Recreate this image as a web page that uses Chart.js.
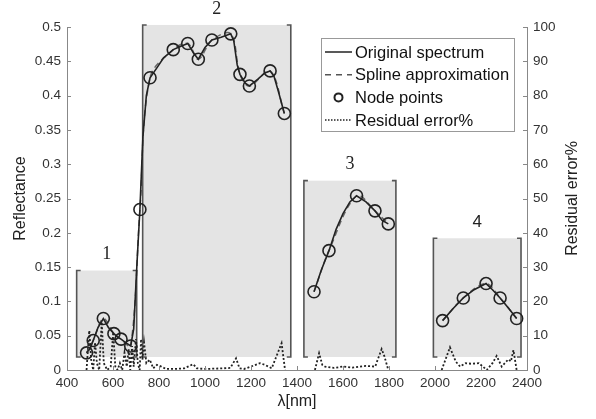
<!DOCTYPE html>
<html>
<head>
<meta charset="utf-8">
<script src="https://cdn.jsdelivr.net/npm/chart.js@4/dist/chart.umd.min.js"></script>
<style>
  html, body { margin: 0; padding: 0; background: #fff; }
  #wrap { width: 596px; height: 419px; }
</style>
</head>
<body>
<div id="wrap"><canvas id="chart" width="596" height="419"></canvas></div>
<script>
// ---- data ----
// original spectrum (null = gap between bands)
var specX = [485, 500, 514, 535, 558, 580, 604, 620, 635, 655, 677, 690, 705, 717, 730, 745, 761, 790, 820, 862, 895, 925, 950, 971, 1000, 1030, 1070, 1112, 1125, 1140, 1152, 1175, 1193, 1230, 1260, 1283, 1300, 1320, 1345,
  1400,
  1474, 1505, 1539, 1570, 1600, 1630, 1659, 1700, 1739, 1770, 1797,
  1900,
  2033, 2080, 2123, 2170, 2222, 2250, 2283, 2320, 2355];
var specY = [0.025, 0.031, 0.043, 0.062, 0.075, 0.062, 0.053, 0.048, 0.045, 0.040, 0.035, 0.060, 0.160, 0.234, 0.340, 0.400, 0.426, 0.440, 0.455, 0.467, 0.472, 0.476, 0.462, 0.453, 0.470, 0.481, 0.485, 0.490, 0.480, 0.445, 0.431, 0.418, 0.414, 0.424, 0.433, 0.436, 0.428, 0.405, 0.374,
  null,
  0.114, 0.145, 0.174, 0.205, 0.228, 0.245, 0.254, 0.245, 0.232, 0.218, 0.213,
  null,
  0.072, 0.090, 0.105, 0.117, 0.126, 0.117, 0.105, 0.090, 0.075];

// node points of the spline
var nodeX = [485, 514, 558, 604, 635, 677, 717, 761, 862, 925, 971, 1030, 1112, 1152, 1193, 1283, 1345,
  1400,
  1474, 1539, 1659, 1739, 1797,
  1900,
  2033, 2123, 2222, 2283, 2355];
var nodeY = [0.025, 0.043, 0.075, 0.053, 0.045, 0.035, 0.234, 0.426, 0.467, 0.476, 0.453, 0.481, 0.490, 0.431, 0.414, 0.436, 0.374,
  null,
  0.114, 0.174, 0.254, 0.232, 0.213,
  null,
  0.072, 0.105, 0.126, 0.105, 0.075];

// residual error, %
var resX = [485, 490, 497, 505, 514, 522, 530, 540, 551, 560, 575, 590, 601, 610, 620, 630, 640, 650, 660, 668, 675, 683, 690, 700, 708, 716, 722, 728, 735, 745, 760, 775, 791, 810, 830, 870, 910, 949, 965, 1000, 1040, 1080, 1110, 1135, 1150, 1170, 1200, 1239, 1260, 1290, 1333, 1348,
  1400,
  1478, 1496, 1510, 1522, 1560, 1600, 1640, 1700, 1740, 1768, 1780, 1797,
  1900,
  2029, 2065, 2090, 2109, 2133, 2160, 2191, 2225, 2250, 2268, 2290, 2319, 2330, 2341, 2355];
var resY = [0, 5, 11.5, 3, 0, 8, 2, 0, 14, 2, 0, 1, 11, 1, 0, 2, 0, 5, 1, 6, 0, 7, 1, 9, 2, 0, 9, 3, 8, 2, 3, 0.5, 1.5, 1, 0.3, 0.3, 0.5, 1.7, 0.5, 0.3, 0.4, 0.5, 0.6, 3.4, 0.5, 0.3, 1, 2, 1.5, 0.5, 7.8, 0,
  null,
  0, 4.9, 1.5, 1, 0.6, 1, 0.7, 1.2, 1, 6.1, 4, 0,
  null,
  0, 6.6, 2.5, 1, 2, 1.8, 2, 0, 2, 4.1, 1, 3.1, 2.5, 5.8, 0];

// spectral regions (grey boxes)
var boxLabels = ['1', '2', '3', '4'];
var boxStart = [442, 729, 1430, 1993];
var boxEnd = [703, 1373, 1830, 2374];
var boxTop = [0.145, 0.503, 0.276, 0.192];
var boxBottom = 0.019;

var legendLabels = ['Original spectrum', 'Spline approximation', 'Node points', 'Residual error%'];

var SANS = "'Liberation Sans', Arial, sans-serif";
var SERIF = "'Liberation Serif', 'Times New Roman', serif";

function pts(xs, ys) { return xs.map(function(x, i) { return { x: x, y: ys[i] }; }); }

// ---- plugins ----
var boxesPlugin = {
  id: 'boxes',
  beforeDatasetsDraw: function(chart) {
    var ctx = chart.ctx, xs = chart.scales.x, ys = chart.scales.y;
    ctx.save();
    for (var i = 0; i < boxStart.length; i++) {
      var l = xs.getPixelForValue(boxStart[i]), r = xs.getPixelForValue(boxEnd[i]);
      var t = ys.getPixelForValue(boxTop[i]), b = ys.getPixelForValue(boxBottom);
      ctx.fillStyle = '#e4e4e4';
      ctx.fillRect(l, t, r - l, b - t);
      ctx.strokeStyle = '#555'; ctx.lineWidth = 1.6;
      ctx.beginPath();
      ctx.moveTo(l + 4, t); ctx.lineTo(l, t); ctx.lineTo(l, b); ctx.lineTo(l + 4, b);
      ctx.moveTo(r - 4, t); ctx.lineTo(r, t); ctx.lineTo(r, b); ctx.lineTo(r - 4, b);
      ctx.stroke();
      ctx.fillStyle = '#222';
      ctx.font = (i === 3 ? '17px ' + SANS : '18px ' + SERIF);
      ctx.textAlign = 'center'; ctx.textBaseline = 'middle';
      ctx.fillText(boxLabels[i], (l + r) / 2, t - 16);
    }
    ctx.restore();
  },
  afterDraw: function(chart) {
    var ctx = chart.ctx, a = chart.chartArea;
    var xs = chart.scales.x, ys = chart.scales.y, y2 = chart.scales.y2;
    ctx.save();
    // inward ticks
    ctx.strokeStyle = '#888'; ctx.lineWidth = 1;
    ctx.beginPath();
    xs.ticks.forEach(function(t) { var p = Math.round(xs.getPixelForValue(t.value)) + 0.5; ctx.moveTo(p, a.bottom); ctx.lineTo(p, a.bottom - 4); });
    ys.ticks.forEach(function(t) { var p = Math.round(ys.getPixelForValue(t.value)) + 0.5; ctx.moveTo(a.left, p); ctx.lineTo(a.left + 4, p); });
    y2.ticks.forEach(function(t) { var p = Math.round(y2.getPixelForValue(t.value)) + 0.5; ctx.moveTo(a.right, p); ctx.lineTo(a.right - 4, p); });
    ctx.stroke();

    // axis titles
    ctx.fillStyle = '#222';
    ctx.font = '16px ' + SANS;
    ctx.textAlign = 'center'; ctx.textBaseline = 'middle';
    ctx.fillText('\u03bb[nm]', (a.left + a.right) / 2, 402);
    ctx.save(); ctx.translate(21, (a.top + a.bottom) / 2); ctx.rotate(-Math.PI / 2);
    ctx.fillText('Reflectance', 0, 0); ctx.restore();
    ctx.save(); ctx.translate(573, (a.top + a.bottom) / 2); ctx.rotate(-Math.PI / 2);
    ctx.fillText('Residual error%', 0, 0); ctx.restore();

    // legend
    var lx = 321.5, ly = 38.5, lw = 193, lh = 93;
    ctx.fillStyle = '#fff'; ctx.fillRect(lx, ly, lw, lh);
    ctx.strokeStyle = '#999'; ctx.lineWidth = 1; ctx.strokeRect(lx, ly, lw, lh);
    ctx.textAlign = 'left';
    ctx.font = '16.5px ' + SANS;
    for (var i = 0; i < legendLabels.length; i++) {
      var yy = 52 + i * 22.7;
      ctx.strokeStyle = '#222'; ctx.lineWidth = 1.5;
      ctx.beginPath();
      if (i === 0) { ctx.setLineDash([]); ctx.moveTo(325, yy); ctx.lineTo(352, yy); ctx.stroke(); }
      else if (i === 1) { ctx.strokeStyle = '#555'; ctx.setLineDash([6, 5]); ctx.moveTo(325, yy); ctx.lineTo(352, yy); ctx.stroke(); }
      else if (i === 2) { ctx.setLineDash([]); ctx.lineWidth = 2; ctx.arc(338.5, yy, 4, 0, Math.PI * 2); ctx.stroke(); }
      else { ctx.setLineDash([1.5, 1.5]); ctx.moveTo(325, yy); ctx.lineTo(352, yy); ctx.stroke(); }
      ctx.setLineDash([]);
      ctx.fillStyle = '#111';
      ctx.fillText(legendLabels[i], 355, yy + 1);
    }
    ctx.restore();
  }
};

// ---- chart ----
var tickFont = { family: SANS, size: 13.5 };
new Chart(document.getElementById('chart'), {
  type: 'scatter',
  data: {
    datasets: [
      { label: 'Residual error%', data: pts(resX, resY), yAxisID: 'y2', showLine: true, spanGaps: false,
        borderColor: '#222', borderWidth: 1.8, borderDash: [2, 2], pointRadius: 0, tension: 0, order: 4 },
      { label: 'Spline approximation', data: pts(nodeX, nodeY), yAxisID: 'y', showLine: true, spanGaps: false,
        borderColor: '#666', borderWidth: 1.5, borderDash: [6, 4], pointRadius: 0, tension: 0.35, order: 3 },
      { label: 'Original spectrum', data: pts(specX, specY), yAxisID: 'y', showLine: true, spanGaps: false,
        borderColor: '#222', borderWidth: 1.6, pointRadius: 0, tension: 0, order: 2 },
      { label: 'Node points', data: pts(nodeX, nodeY), yAxisID: 'y', showLine: false,
        pointStyle: 'circle', pointRadius: 6, pointBorderWidth: 1.6, pointBorderColor: '#222',
        pointBackgroundColor: 'rgba(0,0,0,0)', order: 1 }
    ]
  },
  options: {
    responsive: false, animation: false, devicePixelRatio: 1,
    layout: { padding: { top: 27, left: 0, right: 0, bottom: 0 } },
    plugins: { legend: { display: false }, tooltip: { enabled: false } },
    scales: {
      x: {
        type: 'linear', min: 400, max: 2400,
        ticks: { stepSize: 200, color: '#333', font: tickFont, padding: 5, maxRotation: 0,
          callback: function(v) { return String(v); } },
        grid: { display: false, drawTicks: false },
        border: { display: true, color: '#888', width: 1 },
        afterFit: function(s) { s.height = 49; }
      },
      y: {
        position: 'left', min: 0, max: 0.5,
        ticks: { stepSize: 0.05, color: '#333', font: tickFont, padding: 6,
          callback: function(v) { return String(parseFloat(v.toFixed(2))); } },
        grid: { display: false, drawTicks: false },
        border: { display: true, color: '#888', width: 1 },
        afterFit: function(s) { s.width = 67; }
      },
      y2: {
        position: 'right', min: 0, max: 100,
        ticks: { stepSize: 10, color: '#333', font: tickFont, padding: 6 },
        grid: { display: false, drawTicks: false },
        border: { display: true, color: '#888', width: 1 },
        afterFit: function(s) { s.width = 69; }
      }
    }
  },
  plugins: [boxesPlugin]
});
</script>
</body>
</html>
